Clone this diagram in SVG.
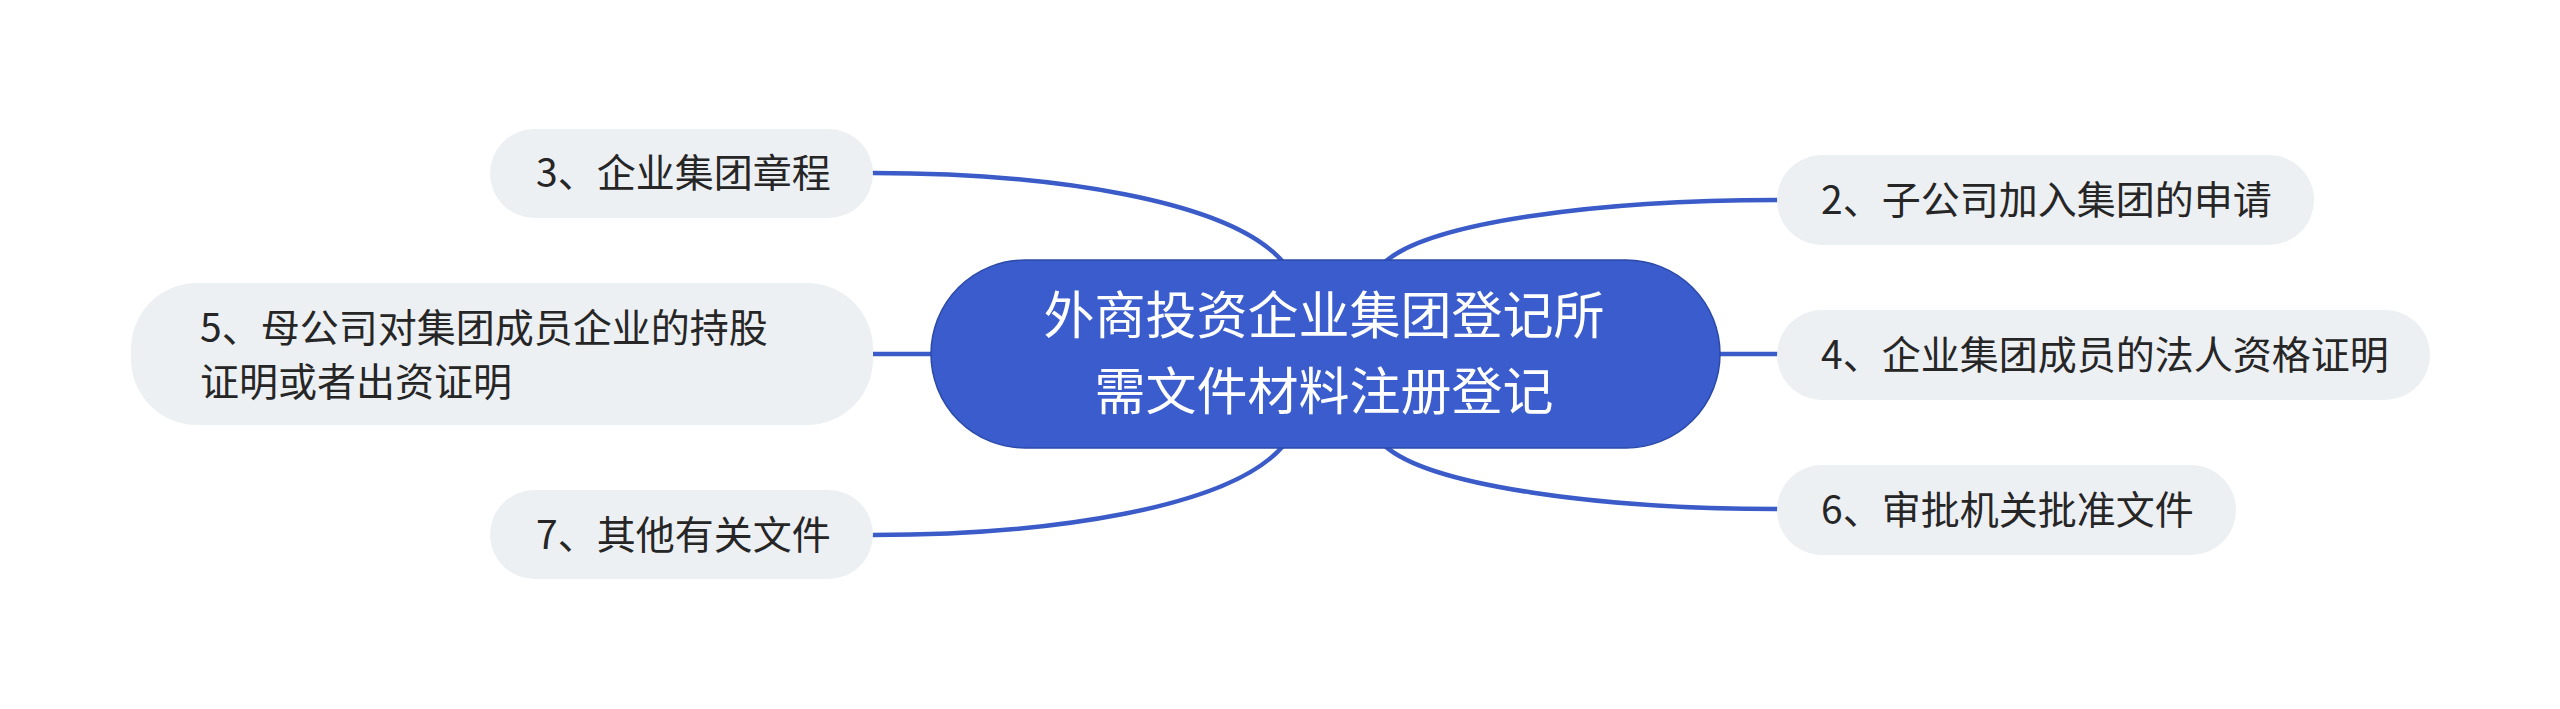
<svg xmlns="http://www.w3.org/2000/svg" width="2560" height="709" viewBox="0 0 2560 709">
<style>
.link{fill:none;stroke:#3a5bc8;stroke-width:4.5;stroke-linecap:round}
.node rect{fill:#edf0f3}
.node text{font-family:"Noto Sans CJK SC","Noto Sans",sans-serif;font-size:39px;fill:#262626}
.root rect{fill:#3a5ccc;stroke:#2c4aa8;stroke-width:1.5}
.root text{font-family:"Noto Sans CJK SC","Noto Sans",sans-serif;font-size:51px;fill:#ffffff;text-anchor:middle}
</style>
<rect width="2560" height="709" fill="#ffffff"/>
<g id="connectors">
<path class="link" d="M1283 262 C1230 200 1050 173 873 173"/>
<path class="link" d="M931 354 L873 354"/>
<path class="link" d="M1283 446 C1230 508 1050 535 873 535"/>
<path class="link" d="M1385 262 C1430 222 1600 200 1777 200"/>
<path class="link" d="M1720 354 L1777 354"/>
<path class="link" d="M1385 446 C1430 486 1600 509 1777 509"/>
</g>
<g id="root" class="root">
<rect x="931" y="260" width="789" height="188" rx="94"/>
<text x="1324" y="334">外商投资企业集团登记所</text>
<text x="1324" y="410">需文件材料注册登记</text>
</g>
<g id="n3" class="node">
<rect x="490" y="129" width="383" height="89" rx="44.5"/>
<text x="536" y="187">3、企业集团章程</text>
</g>
<g id="n5" class="node">
<rect x="131" y="283" width="742" height="142" rx="66"/>
<text x="200" y="342">5、母公司对集团成员企业的持股</text>
<text x="200" y="396">证明或者出资证明</text>
</g>
<g id="n7" class="node">
<rect x="490" y="490" width="383" height="89" rx="44.5"/>
<text x="536" y="549">7、其他有关文件</text>
</g>
<g id="n2" class="node">
<rect x="1777" y="155" width="537" height="90" rx="45"/>
<text x="1821" y="214">2、子公司加入集团的申请</text>
</g>
<g id="n4" class="node">
<rect x="1777" y="310" width="653" height="90" rx="45"/>
<text x="1821" y="369">4、企业集团成员的法人资格证明</text>
</g>
<g id="n6" class="node">
<rect x="1777" y="465" width="459" height="90" rx="45"/>
<text x="1821" y="524">6、审批机关批准文件</text>
</g>
</svg>
